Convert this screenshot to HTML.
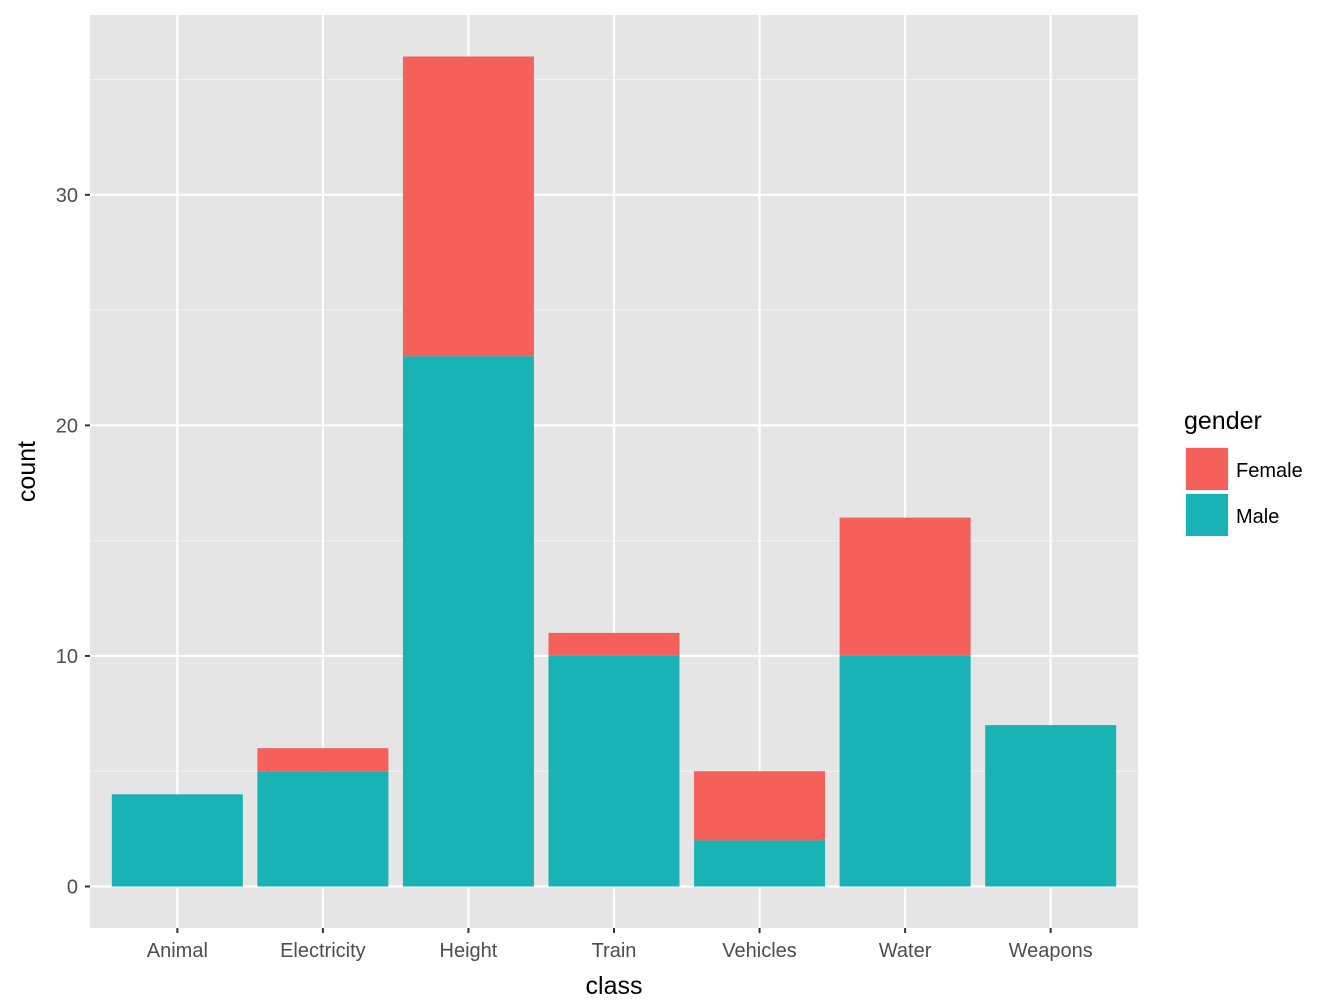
<!DOCTYPE html>
<html><head><meta charset="utf-8"><style>body{margin:0;background:#fff}svg{display:block}</style></head>
<body>
<svg id="chart" width="1344" height="1008" xmlns="http://www.w3.org/2000/svg" font-family="Liberation Sans, Arial, sans-serif"></svg>
<script>
const categories=["Animal","Electricity","Height","Train","Vehicles","Water","Weapons"];
const maleValues=[4,5,23,10,2,10,7];
const femaleValues=[0,1,13,1,3,6,0];
const yTicks=[0,10,20,30];
const yMinor=[5,15,25,35];

const svg=document.getElementById('chart');
const NS='http://www.w3.org/2000/svg';
function mk(tag,attrs,parent){const e=document.createElementNS(NS,tag);for(const k in attrs)e.setAttribute(k,attrs[k]);(parent||svg).appendChild(e);return e;}
const L=90,R=1138,T=15,B=928;
const totals=categories.map((c,i)=>maleValues[i]+femaleValues[i]);
const maxV=Math.max(...totals);
const yMin=-0.05*maxV,yMax=maxV*1.05;
const y=v=>B-(v-yMin)/(yMax-yMin)*(B-T);
const step=(R-L)/(categories.length+0.2);
const x=i=>L+step*(0.6+i);
const bw=step*0.9;

const panel=mk('rect',{x:L,y:T,width:R-L,height:B-T,fill:'#e5e5e5'});


yMinor.forEach(v=>{const l=mk('line',{x1:L,x2:R,y1:y(v),y2:y(v),stroke:'#f2f2f2','stroke-width':1.1});

});
yTicks.forEach(v=>{const l=mk('line',{x1:L,x2:R,y1:y(v),y2:y(v),stroke:'#fff','stroke-width':2.2});


const t=mk('line',{x1:L-5,x2:L,y1:y(v),y2:y(v),stroke:'#333','stroke-width':2});


const tx=mk('text',{x:L-12,y:y(v)+7,'text-anchor':'end','font-size':20,fill:'#4d4d4d'});tx.textContent=v;

});
categories.forEach((c,i)=>{const l=mk('line',{x1:x(i),x2:x(i),y1:T,y2:B,stroke:'#fff','stroke-width':2.2});

});
categories.forEach((c,i)=>{
const m=mk('rect',{x:x(i)-bw/2,y:y(maleValues[i]),width:bw,height:y(0)-y(maleValues[i]),fill:'#19b3b6'});


if(femaleValues[i]>0){const f=mk('rect',{x:x(i)-bw/2,y:y(totals[i]),width:bw,height:y(maleValues[i])-y(totals[i]),fill:'#f5605b'});

}
const t=mk('line',{x1:x(i),x2:x(i),y1:B,y2:B+5,stroke:'#333','stroke-width':2});


const tx=mk('text',{x:x(i),y:B+29,'text-anchor':'middle','font-size':20,fill:'#4d4d4d'});tx.textContent=c;


});
const xt=mk('text',{x:(L+R)/2,y:994,'text-anchor':'middle','font-size':25,fill:'#000'});xt.textContent='class';


const yt=mk('text',{x:0,y:0,transform:'translate(35,'+((T+B)/2)+') rotate(-90)','text-anchor':'middle','font-size':25,fill:'#000'});yt.textContent='count';


const lt=mk('text',{x:1184,y:429,'font-size':25,fill:'#000'});lt.textContent='gender';


[["Female","#f5605b",448],["Male","#19b3b6",494]].forEach(([n,c,yy])=>{
const bg=mk('rect',{x:1185,y:yy-1,width:44,height:44,fill:'#f2f2f2'});


const k=mk('rect',{x:1186,y:yy,width:42,height:42,fill:c});


const t=mk('text',{x:1236,y:yy+29,'font-size':20,fill:'#000'});t.textContent=n;

});
</script>
</body></html>
